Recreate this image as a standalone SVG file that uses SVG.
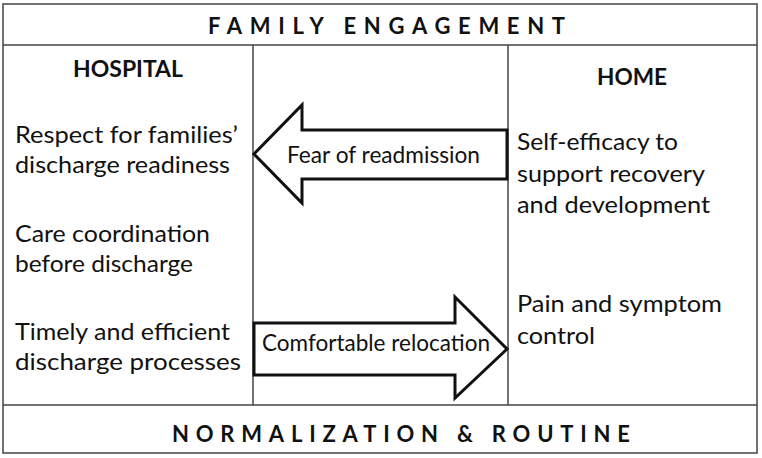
<svg xmlns="http://www.w3.org/2000/svg" width="762" height="458" viewBox="0 0 762 458">
<style>
.t{font-family:Lato,"Open Sans","Liberation Sans",sans-serif;font-size:23px;fill:#111}
.h{font-family:Lato,"Open Sans","Liberation Sans",sans-serif;font-size:23px;font-weight:bold;fill:#111}
.band{font-family:Lato,"Open Sans","Liberation Sans",sans-serif;font-size:22px;font-weight:bold;fill:#111}
.ln{fill:none;stroke:#444;stroke-width:1.5}
.ar{fill:#fff;stroke:#111;stroke-width:3;stroke-linejoin:miter}
</style>
<rect width="762" height="458" fill="#fff"/>
<g id="frame">
<rect class="ln" x="3" y="4" width="754" height="449"/>
<line class="ln" x1="3" y1="45" x2="757" y2="45"/>
<line class="ln" x1="3" y1="405" x2="757" y2="405"/>
<line class="ln" x1="253" y1="45" x2="253" y2="405"/>
<line class="ln" x1="508" y1="45" x2="508" y2="405"/>
</g>
<g id="family-engagement"><text class="band" x="208" y="34" textLength="357" lengthAdjust="spacing">FAMILY ENGAGEMENT</text></g>
<g id="normalization"><text class="band" x="172" y="442" textLength="458" lengthAdjust="spacing">NORMALIZATION &amp; ROUTINE</text></g>
<g id="hospital">
<text class="h" x="73" y="77" textLength="110" lengthAdjust="spacingAndGlyphs">HOSPITAL</text>
<text class="t" x="15" y="143" textLength="223" lengthAdjust="spacingAndGlyphs">Respect for families’</text>
<text class="t" x="15" y="173" textLength="215" lengthAdjust="spacingAndGlyphs">discharge readiness</text>
<text class="t" x="15" y="242" textLength="195" lengthAdjust="spacingAndGlyphs">Care coordination</text>
<text class="t" x="15" y="272" textLength="178" lengthAdjust="spacingAndGlyphs">before discharge</text>
<text class="t" x="15" y="340" textLength="215" lengthAdjust="spacingAndGlyphs">Timely and efficient</text>
<text class="t" x="15" y="370" textLength="226" lengthAdjust="spacingAndGlyphs">discharge processes</text>
</g>
<g id="home">
<text class="h" x="597" y="85" textLength="70" lengthAdjust="spacingAndGlyphs">HOME</text>
<text class="t" x="517" y="150" textLength="161" lengthAdjust="spacingAndGlyphs">Self-efficacy to</text>
<text class="t" x="517" y="182" textLength="188" lengthAdjust="spacingAndGlyphs">support recovery</text>
<text class="t" x="517" y="213" textLength="193" lengthAdjust="spacingAndGlyphs">and development</text>
<text class="t" x="517" y="312" textLength="205" lengthAdjust="spacingAndGlyphs">Pain and symptom</text>
<text class="t" x="517" y="344" textLength="78" lengthAdjust="spacingAndGlyphs">control</text>
</g>
<g id="connectors">
<g id="fear-arrow">
<polygon class="ar" points="507,130 302,130 302,105 254,154 302,203 302,179 507,179"/>
<text class="t" x="287" y="163" textLength="193" lengthAdjust="spacingAndGlyphs">Fear of readmission</text>
</g>
<g id="relocation-arrow">
<polygon class="ar" points="254,323 455,323 455,297 507,349 455,398 455,375 254,375"/>
<text class="t" x="262" y="351" textLength="228" lengthAdjust="spacingAndGlyphs">Comfortable relocation</text>
</g>
</g>
</svg>
